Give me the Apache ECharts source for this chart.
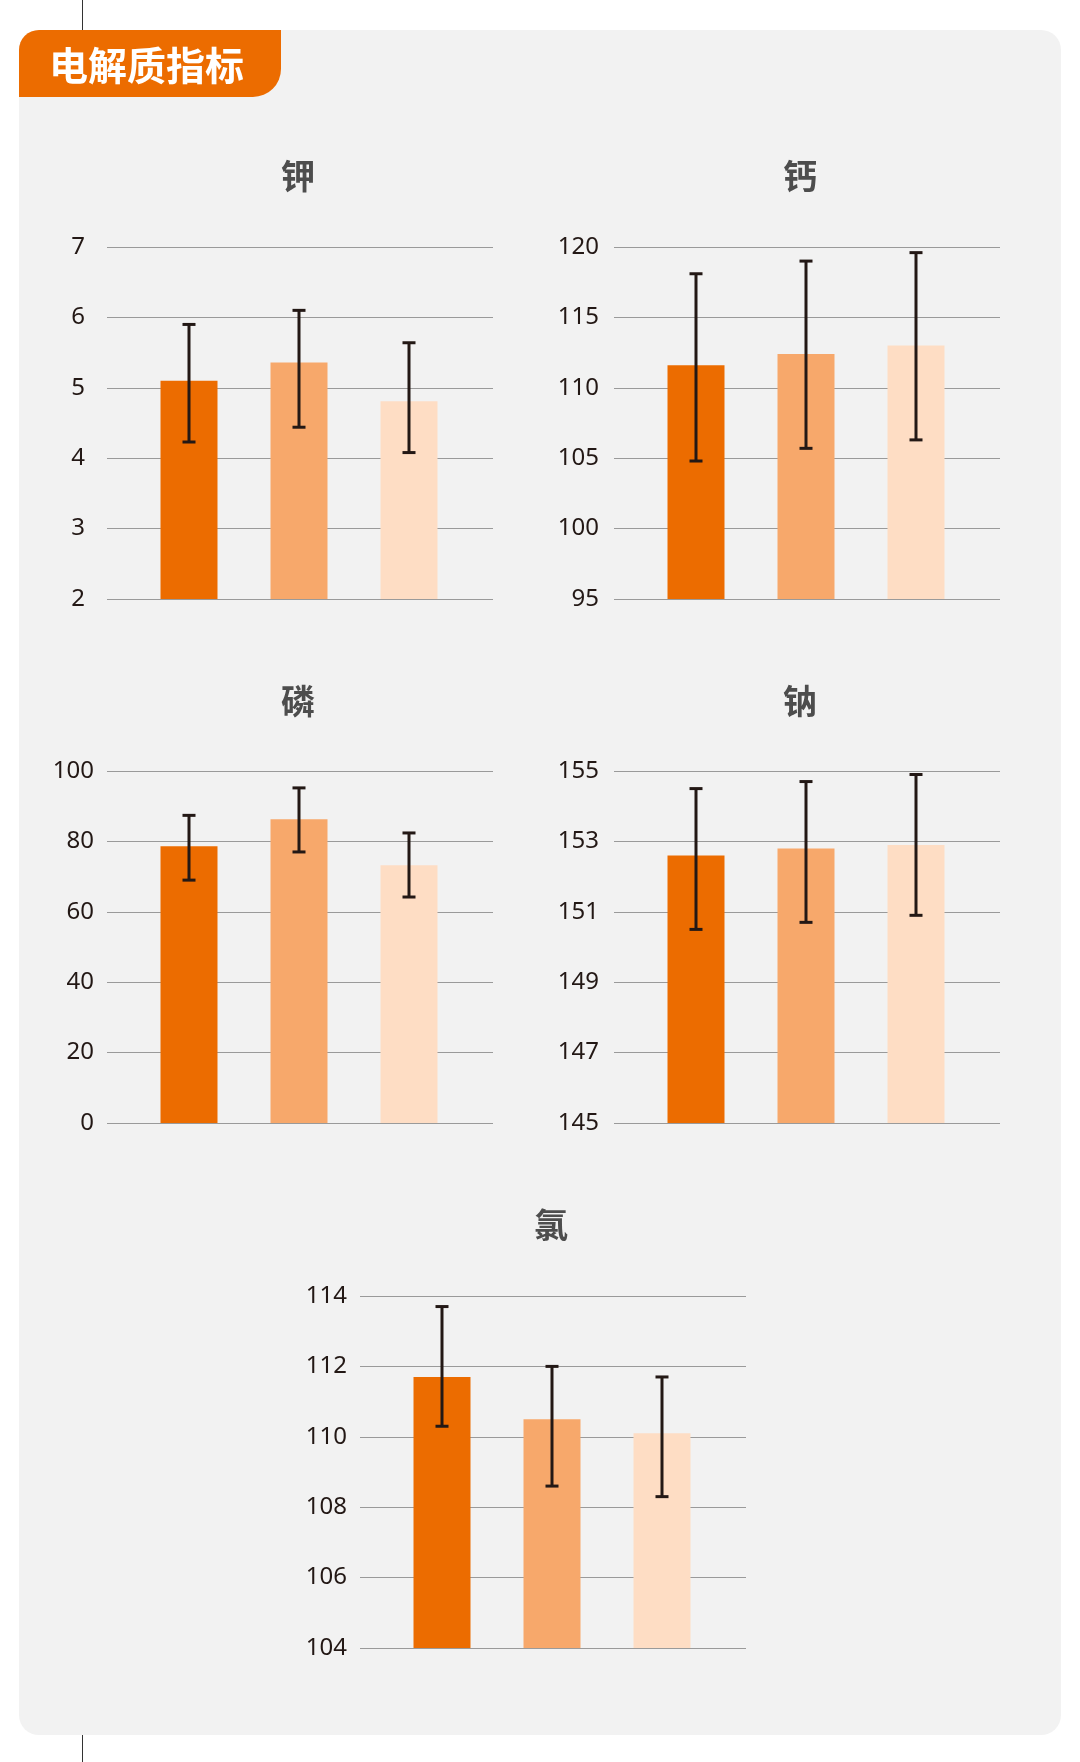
<!DOCTYPE html>
<html style="height: 100%">
<head>
<meta charset="utf-8">
<script src="https://cdn.jsdelivr.net/npm/echarts@6/dist/echarts.min.js"></script>
</head>
<body style="height: 100%; margin: 0; background: #ffffff">
<div id="container" style="width: 1080px; height: 1762px"></div>
<script type="text/javascript">
// groups (not labelled in the picture)
var groups = ['组1', '组2', '组3'];
var barColors = ['#EC6C00', '#F7A86B', '#FEDDC4'];

// 钾
var kMean = [5.10, 5.36, 4.81];
var kLow = [4.23, 4.44, 4.08];
var kHigh = [5.90, 6.10, 5.64];
// 钙
var caMean = [111.6, 112.4, 113.0];
var caLow = [104.8, 105.7, 106.3];
var caHigh = [118.1, 119.0, 119.6];
// 磷
var pMean = [78.6, 86.3, 73.2];
var pLow = [69.0, 77.0, 64.2];
var pHigh = [87.4, 95.2, 82.4];
// 钠
var naMean = [152.6, 152.8, 152.9];
var naLow = [150.5, 150.7, 150.9];
var naHigh = [154.5, 154.7, 154.9];
// 氯
var clMean = [111.7, 110.5, 110.1];
var clLow = [110.3, 108.6, 108.3];
var clHigh = [113.7, 112.0, 111.7];

var charts = [
    {name: '钾', mean: kMean, low: kLow, high: kHigh, min: 2, max: 7, interval: 1,
     left: 107, top: 247, width: 386, height: 352, margin: 22, titleX: 298, titleY: 176},
    {name: '钙', mean: caMean, low: caLow, high: caHigh, min: 95, max: 120, interval: 5,
     left: 614, top: 247, width: 386, height: 352, margin: 15, titleX: 800, titleY: 176},
    {name: '磷', mean: pMean, low: pLow, high: pHigh, min: 0, max: 100, interval: 20,
     left: 107, top: 771, width: 386, height: 352, margin: 13, titleX: 298, titleY: 701},
    {name: '钠', mean: naMean, low: naLow, high: naHigh, min: 145, max: 155, interval: 2,
     left: 614, top: 771, width: 386, height: 352, margin: 15, titleX: 800, titleY: 701},
    {name: '氯', mean: clMean, low: clLow, high: clHigh, min: 104, max: 114, interval: 2,
     left: 360, top: 1296, width: 386, height: 352, margin: 13, titleX: 551, titleY: 1225}
];

function renderError(params, api) {
    var x = api.value(0);
    var top = api.coord([x, api.value(2)]);
    var bot = api.coord([x, api.value(1)]);
    var half = 6.5;
    var style = {stroke: '#231815', lineWidth: 3};
    return {
        type: 'group',
        children: [
            {type: 'line', shape: {x1: top[0], y1: top[1], x2: bot[0], y2: bot[1]}, style: style},
            {type: 'line', shape: {x1: top[0] - half, y1: top[1], x2: top[0] + half, y2: top[1]}, style: style},
            {type: 'line', shape: {x1: bot[0] - half, y1: bot[1], x2: bot[0] + half, y2: bot[1]}, style: style}
        ]
    };
}

var titles = [], grids = [], xAxes = [], yAxes = [], series = [];

charts.forEach(function (c, i) {
    titles.push({
        text: c.name,
        left: c.titleX,
        top: c.titleY - 20,
        textAlign: 'center',
        padding: 0,
        textStyle: {fontSize: 34, fontWeight: 'bold', color: '#4d4d4d', lineHeight: 40,
                    fontFamily: 'Noto Sans CJK SC'}
    });
    // grid for the gridlines and tick labels
    grids.push({left: c.left, top: c.top, width: c.width, height: c.height});
    // narrower grid holding the bars
    grids.push({left: c.left + 27, top: c.top, width: c.width - 56, height: c.height});

    xAxes.push({gridIndex: 2 * i, type: 'category', data: [''], show: false});
    xAxes.push({gridIndex: 2 * i + 1, type: 'category', data: groups, show: false});

    yAxes.push({
        gridIndex: 2 * i, type: 'value', min: c.min, max: c.max, interval: c.interval,
        axisLine: {show: false}, axisTick: {show: false},
        axisLabel: {margin: c.margin, fontSize: 24, color: '#231815', fontFamily: 'Noto Sans',
                    padding: [0, 0, 5, 0]},
        splitLine: {lineStyle: {color: '#9a9a9a', width: 1}}
    });
    yAxes.push({gridIndex: 2 * i + 1, type: 'value', min: c.min, max: c.max, show: false,
                splitLine: {show: false}});

    series.push({
        type: 'bar',
        xAxisIndex: 2 * i + 1, yAxisIndex: 2 * i + 1,
        barWidth: 57,
        data: c.mean.map(function (v, j) {
            return {value: v, itemStyle: {color: barColors[j]}};
        }),
        animation: false
    });
    series.push({
        type: 'custom',
        xAxisIndex: 2 * i + 1, yAxisIndex: 2 * i + 1,
        renderItem: renderError,
        data: c.mean.map(function (v, j) { return [j, c.low[j], c.high[j]]; }),
        z: 5,
        animation: false
    });
});

var myChart = echarts.init(document.getElementById('container'));
var option = {
    backgroundColor: '#ffffff',
    animation: false,
    title: titles,
    grid: grids,
    xAxis: xAxes,
    yAxis: yAxes,
    series: series,
    graphic: [
        {type: 'line', z: -10, shape: {x1: 82.5, y1: 0, x2: 82.5, y2: 30}, style: {stroke: '#333', lineWidth: 1}},
        {type: 'line', z: -10, shape: {x1: 82.5, y1: 1735, x2: 82.5, y2: 1762}, style: {stroke: '#333', lineWidth: 1}},
        {type: 'rect', z: -10, shape: {x: 19, y: 30, width: 1042, height: 1705, r: 20},
         style: {fill: '#f2f2f2'}},
        {type: 'rect', z: -5, shape: {x: 19, y: 30, width: 262, height: 67, r: [20, 0, 28, 0]},
         style: {fill: '#EC6C00'}},
        {type: 'text', z: -4, x: 49, y: 65,
         style: {text: '电解质指标', fill: '#ffffff', fontSize: 39, fontWeight: 'bold',
                 fontFamily: 'Noto Sans CJK SC', textVerticalAlign: 'middle'}}
    ]
};
myChart.setOption(option);
</script>
</body>
</html>
